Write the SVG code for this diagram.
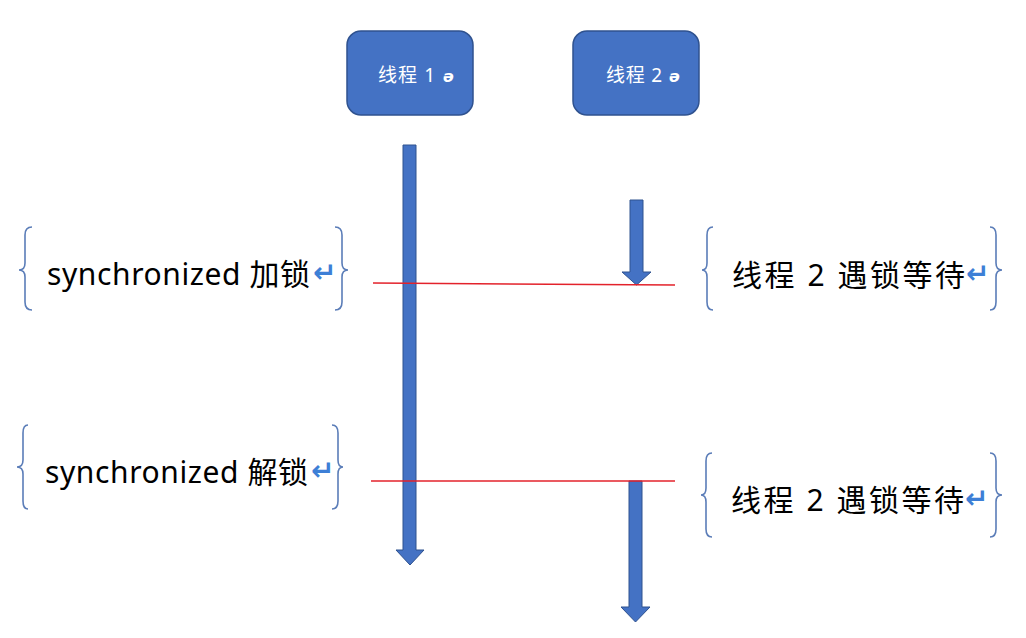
<svg xmlns="http://www.w3.org/2000/svg" width="1026" height="638" viewBox="0 0 1026 638">
<style>
.box{fill:#4472C4;stroke:#2F528F;stroke-width:1.5}
.bt{font-family:"Noto Sans","Noto Sans CJK SC",sans-serif;font-size:19px;fill:#fff}
.mk{font-family:"DejaVu Sans",sans-serif;font-size:16px;fill:#fff;font-style:italic;font-weight:bold}
.arr{fill:#4472C4;stroke:#2F528F;stroke-width:1}
.red{stroke:#E3222B;stroke-width:1.5;fill:none}
.br{fill:none;stroke:#5B7DB8;stroke-width:1.6}
.lt{font-family:"Noto Sans","Noto Sans CJK SC",sans-serif;font-size:30px;fill:#000}
.ret{font-family:"DejaVu Sans",sans-serif;font-size:28px;font-weight:bold;fill:#3D7FD6}
</style>
<rect width="1026" height="638" fill="#fff"/>
<g id="thread1">
<rect class="box" x="347" y="31" width="126" height="84" rx="14"/>
<text class="bt" x="378" y="82" textLength="57">线程 1</text>
<text class="mk" x="443" y="82">ə</text>
</g>
<g id="thread2">
<rect class="box" x="573" y="31" width="126" height="84" rx="14"/>
<text class="bt" x="606" y="82" textLength="56">线程 2</text>
<text class="mk" x="669" y="82">ə</text>
</g>
<g id="connectors">
<polygon class="arr" points="403,145 416,145 416,550 424,550 410,565 396,550 403,550"/>
<polygon class="arr" points="630,200 643,200 643,272 651,272 636.5,285 622,272 630,272"/>
<polygon class="arr" points="629,481 642,481 642,607 650,607 635.5,622 621,607 629,607"/>
<line class="red" x1="373" y1="283" x2="675" y2="285"/>
<line class="red" x1="371" y1="481" x2="675" y2="481"/>
</g>
<g id="label-lock">
<path class="br" d="M32,227 Q25,227 25,235 L25,263 Q25,270 19,270 Q25,270 25,277 L25,302 Q25,310 32,310"/>
<path class="br" d="M335,227 Q342,227 342,235 L342,263 Q342,270 348,270 Q342,270 342,277 L342,302 Q342,310 335,310"/>
<text class="lt" x="47" y="285" textLength="263">synchronized 加锁</text>
<text class="ret" x="313" y="282">↵</text>
</g>
<g id="label-wait1">
<path class="br" d="M713,227 Q707,227 707,235 L707,263 Q707,270 702,270 Q707,270 707,277 L707,302 Q707,310 713,310"/>
<path class="br" d="M990,227 Q996,227 996,235 L996,263 Q996,270 1002,270 Q996,270 996,277 L996,302 Q996,310 990,310"/>
<text class="lt" x="732" y="286" textLength="233">线程 2 遇锁等待</text>
<text class="ret" x="966" y="283">↵</text>
</g>
<g id="label-unlock">
<path class="br" d="M28,425 Q23,425 23,433 L23,460 Q23,467 17,467 Q23,467 23,474 L23,501 Q23,509 28,509"/>
<path class="br" d="M332,425 Q338,425 338,433 L338,460 Q338,467 343,467 Q338,467 338,474 L338,501 Q338,509 332,509"/>
<text class="lt" x="45" y="483" textLength="263">synchronized 解锁</text>
<text class="ret" x="311" y="480">↵</text>
</g>
<g id="label-wait2">
<path class="br" d="M712,453 Q706,453 706,461 L706,488 Q706,495 701,495 Q706,495 706,502 L706,529 Q706,537 712,537"/>
<path class="br" d="M990,453 Q996,453 996,461 L996,488 Q996,495 1002,495 Q996,495 996,502 L996,529 Q996,537 990,537"/>
<text class="lt" x="731" y="511" textLength="233">线程 2 遇锁等待</text>
<text class="ret" x="965" y="508">↵</text>
</g>
</svg>
